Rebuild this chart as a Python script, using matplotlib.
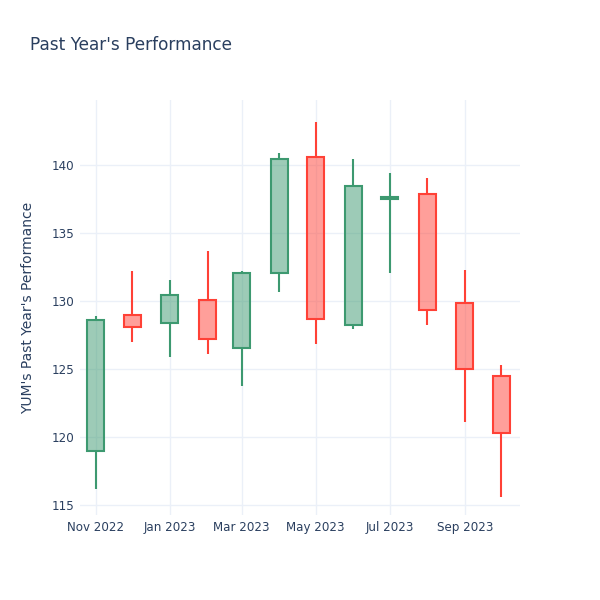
import matplotlib
matplotlib.use('Agg')
import matplotlib.pyplot as plt
import matplotlib.dates as mdates
import pandas as pd

months = ['2022-11-01', '2022-12-01', '2023-01-01', '2023-02-01', '2023-03-01', '2023-04-01',
          '2023-05-01', '2023-06-01', '2023-07-01', '2023-08-01', '2023-09-01', '2023-10-01']
opens = [119.0, 129.0, 128.4, 130.1, 126.6, 132.1, 140.6, 128.3, 137.55, 137.9, 129.9, 124.5]
highs = [128.9, 132.2, 131.6, 133.7, 132.2, 140.9, 143.2, 140.5, 139.4, 139.1, 132.3, 125.3]
lows = [116.2, 127.0, 125.9, 126.1, 123.8, 130.7, 126.9, 128.0, 132.1, 128.3, 121.1, 115.6]
closes = [128.6, 128.1, 130.5, 127.2, 132.1, 140.5, 128.7, 138.5, 137.65, 129.4, 125.0, 120.3]

tick_dates = ['2022-11-01', '2023-01-01', '2023-03-01', '2023-05-01', '2023-07-01', '2023-09-01']
tick_labels = ['Nov 2022', 'Jan 2023', 'Mar 2023', 'May 2023', 'Jul 2023', 'Sep 2023']

up_col = '#3D9970'
down_col = '#FF4136'
text_col = '#2a3f5f'
grid_col = '#EBF0F8'

x = mdates.date2num(pd.to_datetime(months))

fig = plt.figure(figsize=(6, 6), dpi=100)
ax = fig.add_axes([80 / 600, 85 / 600, 440 / 600, 415 / 600])

for xi, o, h, l, c in zip(x, opens, highs, lows, closes):
    col = up_col if c >= o else down_col
    lo_b, hi_b = min(o, c), max(o, c)
    ax.vlines(xi, l, lo_b, color=col, lw=1.5, zorder=2)
    ax.vlines(xi, hi_b, h, color=col, lw=1.5, zorder=2)
    ax.bar(xi, hi_b - lo_b, bottom=lo_b, width=14, color=col, alpha=0.5, zorder=3)
    ax.bar(xi, max(hi_b - lo_b, 0.001), bottom=lo_b, width=14, fill=False,
           edgecolor=col, lw=1.5, zorder=4)

ax.set_xlim(mdates.date2num(pd.Timestamp('2022-10-19')), mdates.date2num(pd.Timestamp('2023-10-16 08:00')))
ax.set_ylim(114.3, 144.8)

ax.set_xticks(mdates.date2num(pd.to_datetime(tick_dates)))
ax.set_xticklabels(tick_labels)
ax.set_yticks([115, 120, 125, 130, 135, 140])

ax.grid(True, color=grid_col, lw=1, zorder=0)
ax.set_axisbelow(True)
for s in ax.spines.values():
    s.set_visible(False)
ax.tick_params(length=0, labelsize=8.6, colors=text_col, pad=4)

ax.set_ylabel("YUM's Past Year's Performance", fontsize=10, color=text_col, labelpad=12)
fig.text(30 / 600, 1 - 45 / 600, "Past Year's Performance", fontsize=12.2, color=text_col,
         va='center', ha='left')

fig.savefig('out.png', dpi=100, facecolor='white')
